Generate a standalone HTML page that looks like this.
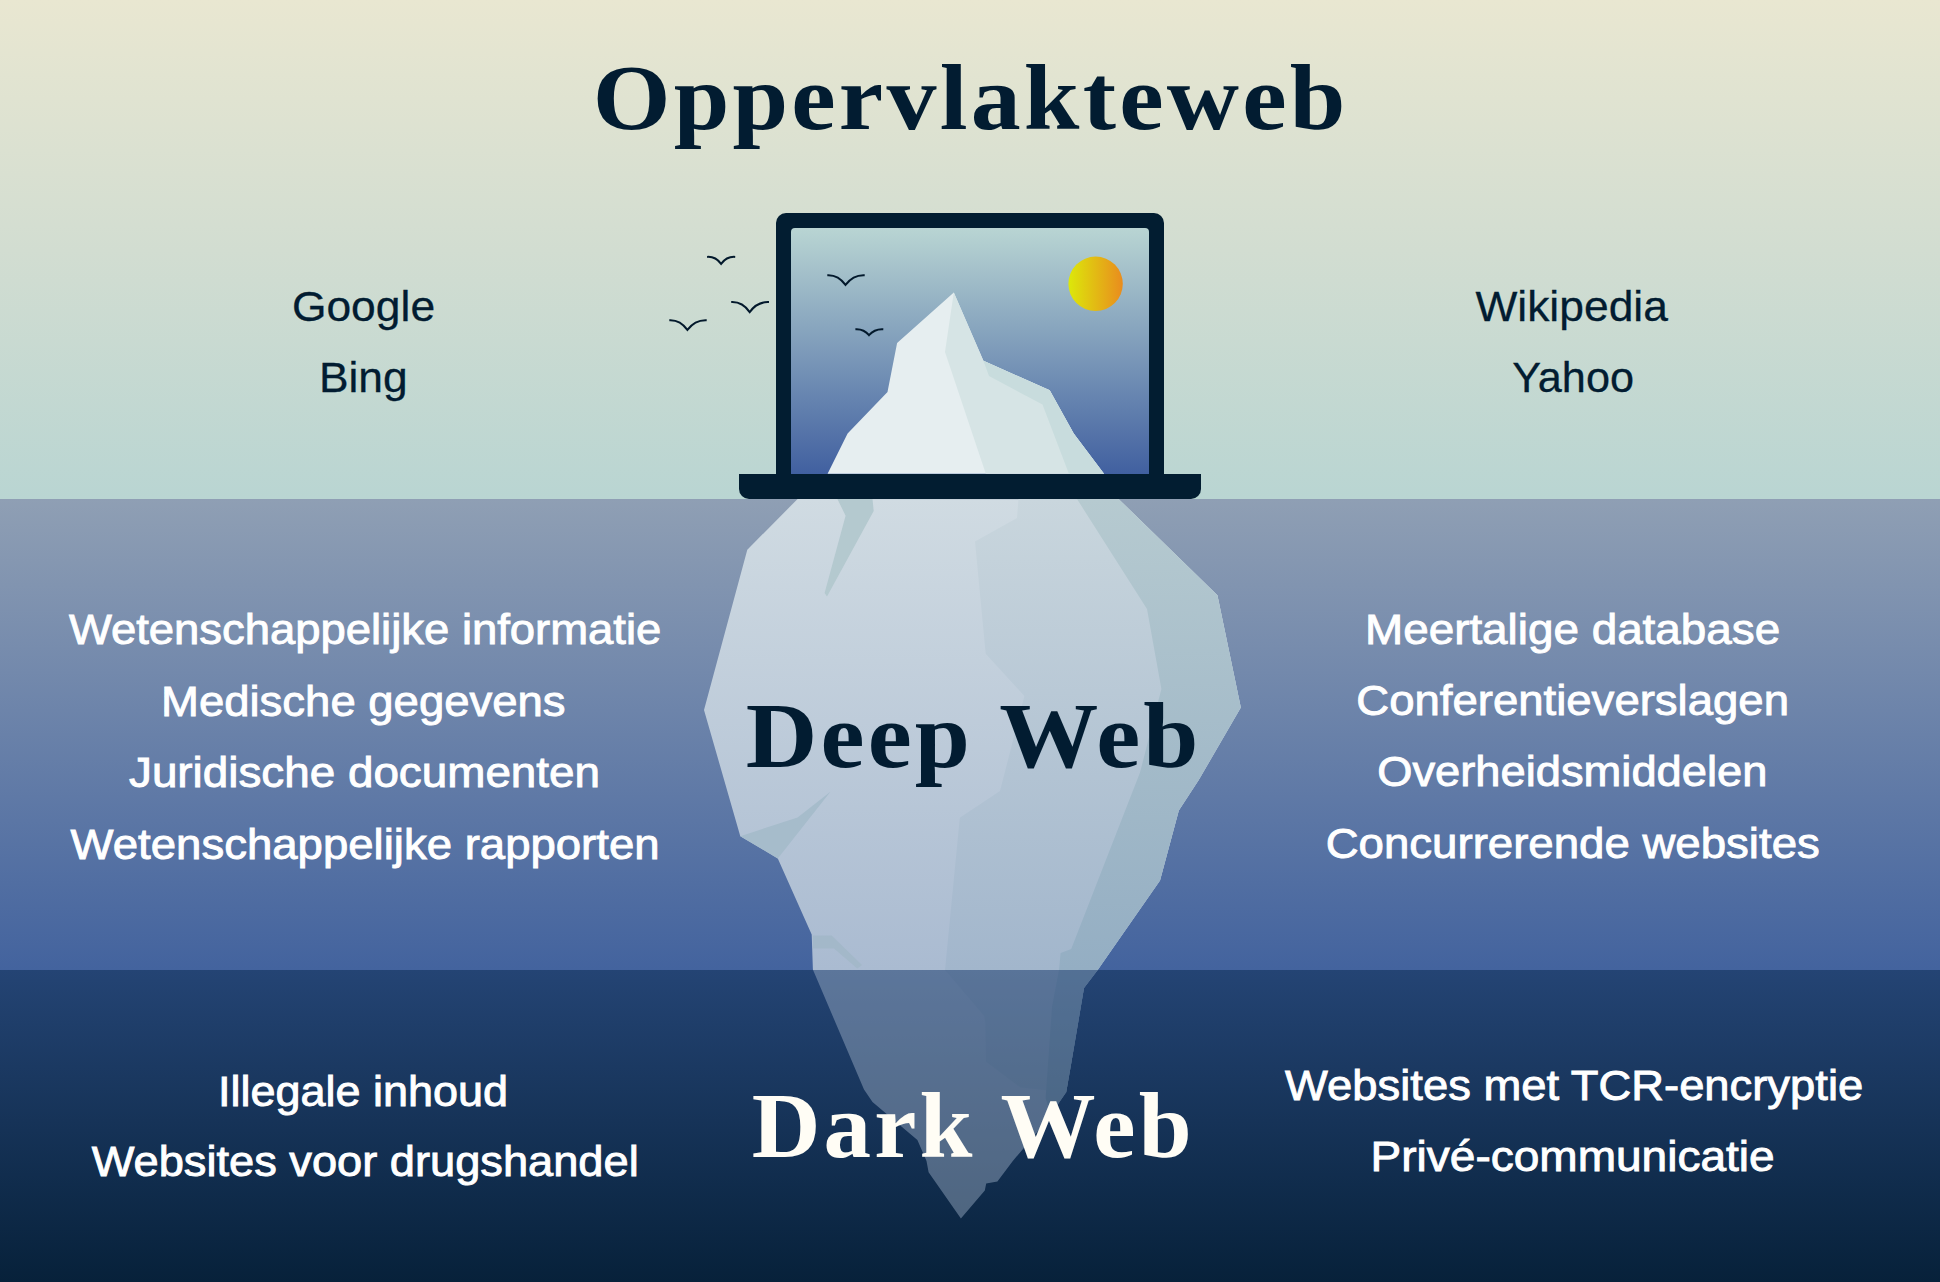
<!DOCTYPE html>
<html><head><meta charset="utf-8">
<style>
html,body{margin:0;padding:0;width:1940px;height:1282px;overflow:hidden;background:#0e2746}
svg{display:block}
.sd,.sw{font-family:"Liberation Sans",sans-serif;font-size:43px;stroke-width:0.9px}
.sd{stroke:#021c31;stroke-width:0.3px}
.sw{stroke:#ffffff}
.t{font-family:"Liberation Serif",serif;font-weight:bold;font-size:93px}
</style></head><body>
<svg width="1940" height="1282" viewBox="0 0 1940 1282">
<defs>
<linearGradient id="sky" x1="0" y1="0" x2="0" y2="1">
<stop offset="0" stop-color="#e9e7d1"/><stop offset="0.5" stop-color="#d2ddd1"/><stop offset="1" stop-color="#b9d5d2"/>
</linearGradient>
<linearGradient id="deep" x1="0" y1="0" x2="0" y2="1">
<stop offset="0" stop-color="#8f9fb4"/><stop offset="1" stop-color="#43639e"/>
</linearGradient>
<linearGradient id="dark" x1="0" y1="0" x2="0" y2="1">
<stop offset="0" stop-color="#244474"/><stop offset="1" stop-color="#07213a"/>
</linearGradient>
<linearGradient id="screen" x1="0" y1="0" x2="0" y2="1">
<stop offset="0" stop-color="#b9d5d3"/><stop offset="1" stop-color="#3f5e9f"/>
</linearGradient>
<linearGradient id="sun" x1="0" y1="0" x2="1" y2="0">
<stop offset="0" stop-color="#dce80a"/><stop offset="1" stop-color="#e98c1e"/>
</linearGradient>
<linearGradient id="ice" x1="0" y1="499" x2="0" y2="970" gradientUnits="userSpaceOnUse">
<stop offset="0" stop-color="#d0dbe2"/><stop offset="1" stop-color="#aabbd1"/>
</linearGradient>
<linearGradient id="ice2" x1="0" y1="499" x2="0" y2="970" gradientUnits="userSpaceOnUse">
<stop offset="0" stop-color="#c9d6dd"/><stop offset="1" stop-color="#a2b6cc"/>
</linearGradient>
<linearGradient id="ice3" x1="0" y1="499" x2="0" y2="970" gradientUnits="userSpaceOnUse">
<stop offset="0" stop-color="#b6cad0"/><stop offset="1" stop-color="#94aec3"/>
</linearGradient>
<clipPath id="darkclip"><rect x="0" y="970" width="1940" height="312"/></clipPath>
</defs>
<rect x="0" y="0" width="1940" height="499" fill="url(#sky)"/>
<rect x="0" y="499" width="1940" height="471" fill="url(#deep)"/>

<!-- underwater iceberg -->
<g id="berg">
<polygon fill="url(#ice)" points="797.6,499 747.3,549.7 704,710 740.3,836.2 777.8,858.4 811.7,934.5 812.9,969.6 864,1089.5 872.5,1102 917.4,1140 926.5,1161 928.6,1172.3 960.9,1218.6 984.8,1190.5 986.2,1183.5 997.4,1181.4 1012.8,1161 1035.3,1134.4 1050.7,1114.7 1066.2,1092.3 1071.8,1060 1084,988 1098,969.6 1160,880.6 1178.8,810.4 1198.7,780 1240.8,707.6 1217.4,595.3 1119,499.4"/>
<polygon fill="url(#ice2)" points="1018.5,499 1017,518 975,541.5 985.7,653.8 1024.4,696 1000,791 959.8,817.7 945,970 984.2,1016 985.4,1023 986,1061.8 1020.5,1087.5 1066.2,1092.3 1071.8,1060 1084,988 1098,969.6 1160,880.6 1178.8,810.4 1198.7,780 1240.8,707.6 1217.4,595.3 1119,499.4"/>
<polygon fill="url(#ice3)" points="1077,499 1147,609 1161.4,689 1140,772.6 1071.2,949 1060.6,953 1059,970 1052,1006.8 1045.6,1098 1050.7,1114.7 1066.2,1092.3 1071.8,1060 1084,988 1098,969.6 1160,880.6 1178.8,810.4 1198.7,780 1240.8,707.6 1217.4,595.3 1119,499.4"/>
<polygon fill="#b4c9cf" points="837.4,499 872.5,499 873.7,511 827,596.5 824.6,593 845.6,515.7"/>
<polygon fill="#a6bccb" points="740.3,836.2 797.6,817.4 830.4,791.7 777.8,858.4"/>
<polygon fill="#a3b8c9" points="812.9,935.6 831.6,935.6 862,965 857.3,968.4 834,948.5 812.9,948.5"/>
</g>

<!-- dark region -->
<rect x="0" y="970" width="1940" height="312" fill="url(#dark)"/>
<g clip-path="url(#darkclip)" opacity="0.42">
<use href="#berg"/>
</g>

<!-- laptop -->
<rect x="776" y="213" width="388" height="275" rx="10" fill="#021d31"/>
<rect x="791" y="228" width="358" height="250" rx="4" fill="url(#screen)"/>
<circle cx="1095.6" cy="283.8" r="27.2" fill="url(#sun)"/>
<polygon fill="#e6eef0" points="827.6,473.7 847.6,433.4 887.5,391.9 897.1,343.1 953.8,292.5 983.4,360.7 1049.7,390.3 1073.7,433.4 1104,473.7"/>
<polygon fill="#d6e4e5" points="953.8,292.5 945,351.9 985.8,473.7 1104,473.7 1073.7,433.4 1049.7,390.3 983.4,360.7"/>
<polygon fill="#c8dcdd" points="983.4,360.7 989,375.9 1042.5,404.6 1068.9,473.7 1104,473.7 1073.7,433.4 1049.7,390.3"/>
<path fill="#021d31" d="M739,474 H1201 V489 A10,10 0 0 1 1191,499 H749 A10,10 0 0 1 739,489 Z"/>

<!-- birds -->
<g fill="none" stroke="#03192c" stroke-width="2" stroke-linecap="butt" stroke-linejoin="miter">
<path d="M707.1,256.9 Q715.5,256.3 721.1,263.9 Q726.7,256.3 735.2,256.9"/>
<path d="M731.2,302.1 Q742.3,301.5 749.7,312.1 Q757.4,301.5 769.0,302.1"/>
<path d="M669.3,320.2 Q680.2,319.6 687.4,329.9 Q695.1,319.6 706.7,320.2"/>
<path d="M827.3,275.2 Q838.2,274.6 845.5,284.9 Q853.2,274.6 864.7,275.2"/>
<path d="M855.4,329.3 Q863.6,328.7 869.0,335.2 Q874.7,328.7 883.3,329.3"/>
</g>

<!-- texts -->
<text class="sd" x="291.9" y="320.9" textLength="143.2" lengthAdjust="spacingAndGlyphs" fill="#021c31">Google</text>
<text class="sd" x="318.9" y="391.7" textLength="88.8" lengthAdjust="spacingAndGlyphs" fill="#021c31">Bing</text>
<text class="sd" x="1475.4" y="321.0" textLength="192.5" lengthAdjust="spacingAndGlyphs" fill="#021c31">Wikipedia</text>
<text class="sd" x="1512.2" y="391.5" textLength="121.8" lengthAdjust="spacingAndGlyphs" fill="#021c31">Yahoo</text>
<text class="sw" x="68.9" y="644.4" textLength="592.4" lengthAdjust="spacingAndGlyphs" fill="#ffffff">Wetenschappelijke informatie</text>
<text class="sw" x="161.0" y="715.9" textLength="404.6" lengthAdjust="spacingAndGlyphs" fill="#ffffff">Medische gegevens</text>
<text class="sw" x="129.0" y="787.3" textLength="471.0" lengthAdjust="spacingAndGlyphs" fill="#ffffff">Juridische documenten</text>
<text class="sw" x="70.6" y="858.8" textLength="589.0" lengthAdjust="spacingAndGlyphs" fill="#ffffff">Wetenschappelijke rapporten</text>
<text class="sw" x="1365.0" y="644.3" textLength="415.2" lengthAdjust="spacingAndGlyphs" fill="#ffffff">Meertalige database</text>
<text class="sw" x="1356.3" y="715.2" textLength="432.7" lengthAdjust="spacingAndGlyphs" fill="#ffffff">Conferentieverslagen</text>
<text class="sw" x="1377.2" y="786.2" textLength="390.2" lengthAdjust="spacingAndGlyphs" fill="#ffffff">Overheidsmiddelen</text>
<text class="sw" x="1325.7" y="857.7" textLength="494.1" lengthAdjust="spacingAndGlyphs" fill="#ffffff">Concurrerende websites</text>
<text class="sw" x="217.9" y="1105.7" textLength="290.2" lengthAdjust="spacingAndGlyphs" fill="#ffffff">Illegale inhoud</text>
<text class="sw" x="91.7" y="1176.2" textLength="547.0" lengthAdjust="spacingAndGlyphs" fill="#ffffff">Websites voor drugshandel</text>
<text class="sw" x="1285.1" y="1100.3" textLength="578.1" lengthAdjust="spacingAndGlyphs" fill="#ffffff">Websites met TCR-encryptie</text>
<text class="sw" x="1370.6" y="1171.0" textLength="404.0" lengthAdjust="spacingAndGlyphs" fill="#ffffff">Privé-communicatie</text>
<text class="t" x="592.7" y="129.0" letter-spacing="3" textLength="755.9" lengthAdjust="spacingAndGlyphs" fill="#021c31">Oppervlakteweb</text>
<text class="t" x="745.7" y="766.6" letter-spacing="3" textLength="456.0" lengthAdjust="spacingAndGlyphs" fill="#021c31">Deep Web</text>
<text class="t" x="751.8" y="1156.6" letter-spacing="3" textLength="442.8" lengthAdjust="spacingAndGlyphs" fill="#fffdf5">Dark Web</text>
</svg>
</body></html>
